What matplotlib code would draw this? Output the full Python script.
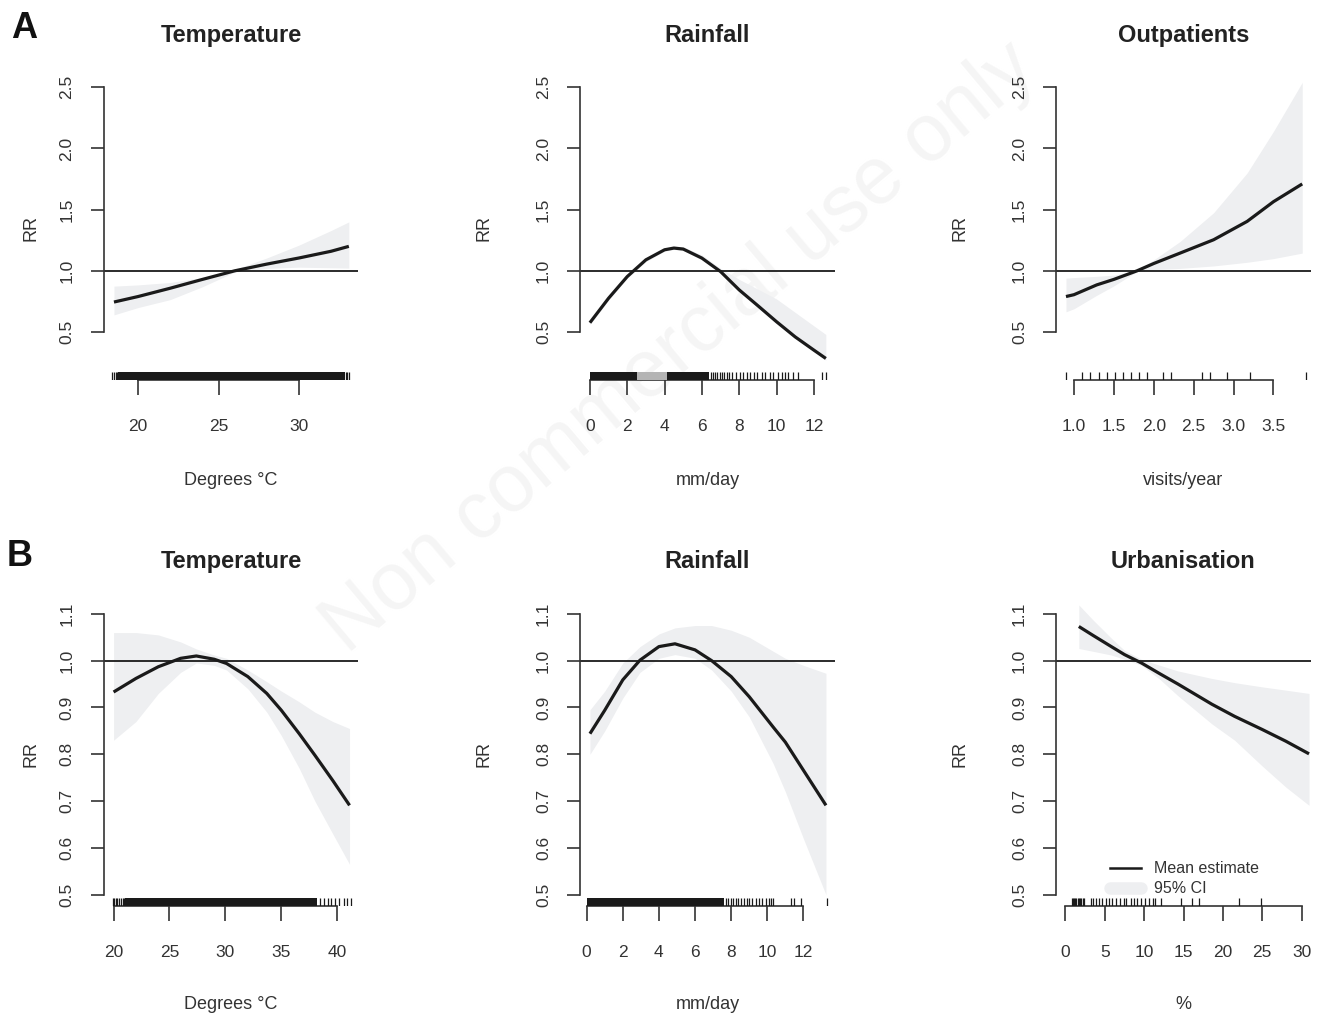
import matplotlib
matplotlib.use('Agg')
import matplotlib.pyplot as plt
from matplotlib.lines import Line2D

plt.rcParams['font.family'] = ['Liberation Sans', 'DejaVu Sans']

# ---------------- data ----------------
# Row A
temp_a_x = [18.5, 20, 22, 24, 26, 28, 30, 32, 33.1]
temp_a_rr = [0.745, 0.79, 0.858, 0.93, 1.0, 1.055, 1.105, 1.16, 1.2]
temp_a_lo = [0.64, 0.70, 0.765, 0.87, 0.99, 1.02, 1.03, 1.025, 1.022]
temp_a_hi = [0.875, 0.885, 0.905, 0.945, 1.01, 1.105, 1.21, 1.33, 1.40]
temp_a_rug = [18.4, 18.5, 18.6, 18.7, 32.9, 33.0, 33.1]
temp_a_rug_dense = [(18.75, 32.85, '#1a1a1a')]

rain_a_x = [0, 1, 2, 3, 4, 4.5, 5, 6, 7, 8, 9, 10, 11, 12, 12.64]
rain_a_rr = [0.576, 0.776, 0.953, 1.09, 1.172, 1.186, 1.178, 1.104, 0.994, 0.844, 0.715, 0.584, 0.46, 0.352, 0.284]
rain_a_lo = [0.56, 0.76, 0.94, 1.075, 1.16, 1.175, 1.165, 1.09, 0.98, 0.83, 0.70, 0.57, 0.45, 0.34, 0.27]
rain_a_hi = [0.59, 0.79, 0.965, 1.10, 1.185, 1.20, 1.195, 1.13, 1.02, 0.93, 0.85, 0.77, 0.66, 0.55, 0.48]
rain_a_rug = [6.5, 6.6, 6.7, 6.8, 6.95, 7.05, 7.2, 7.35, 7.45, 7.6, 7.8,
              8.04, 8.21, 8.39, 8.57, 8.78, 8.96, 9.2, 9.37, 9.64, 9.82, 10.1,
              10.27, 10.45, 10.62, 10.89, 11.16, 12.46, 12.64]
rain_a_rug_dense = [(0.0, 2.5, '#1a1a1a'), (2.5, 4.14, '#b4b4b4'), (4.14, 6.4, '#1a1a1a')]

outp_x = [0.9, 1.0, 1.285, 1.5, 1.79, 2.0, 2.33, 2.75, 3.17, 3.5, 3.86]
outp_rr = [0.79, 0.805, 0.885, 0.93, 1.0, 1.06, 1.145, 1.254, 1.404, 1.565, 1.71]
outp_lo = [0.665, 0.69, 0.80, 0.877, 0.995, 1.01, 1.02, 1.04, 1.07, 1.10, 1.145]
outp_hi = [0.94, 0.945, 0.955, 0.965, 1.005, 1.09, 1.24, 1.475, 1.80, 2.14, 2.54]
outp_rug = [0.9, 1.097, 1.2, 1.31, 1.41, 1.51, 1.61, 1.71, 1.81, 1.92, 2.12,
            2.21, 2.61, 2.71, 2.92, 3.21, 3.91]
outp_rug_dense = []

# Row B
temp_b_x = [20, 22, 24, 26, 27.4, 29, 30.1, 32, 33.7, 35, 36.6, 38, 39.6, 41.1]
temp_b_rr = [0.933, 0.962, 0.987, 1.005, 1.010, 1.003, 0.994, 0.966, 0.930, 0.894, 0.844, 0.798, 0.744, 0.691]
temp_b_lo = [0.83, 0.87, 0.93, 0.975, 0.995, 0.99, 0.98, 0.94, 0.89, 0.84, 0.77, 0.70, 0.63, 0.565]
temp_b_hi = [1.06, 1.06, 1.055, 1.04, 1.025, 1.012, 1.005, 0.98, 0.955, 0.935, 0.912, 0.89, 0.87, 0.855]
temp_b_rug = [19.91, 20.06, 20.21, 20.35, 20.5, 20.65, 20.8, 20.95, 38.42, 38.78,
              39.16, 39.47, 39.76, 40.15, 40.57, 40.86, 41.25]
temp_b_rug_dense = [(21.0, 38.2, '#1a1a1a')]

rain_b_x = [0.18, 1, 2, 2.95, 4, 4.89, 6, 6.92, 8, 9, 10.33, 11, 12, 13.25]
rain_b_rr = [0.844, 0.894, 0.959, 1.001, 1.030, 1.036, 1.023, 1.0, 0.966, 0.923, 0.858, 0.826, 0.766, 0.691]
rain_b_lo = [0.80, 0.85, 0.92, 0.975, 1.005, 1.013, 1.005, 0.98, 0.935, 0.88, 0.78, 0.72, 0.62, 0.50]
rain_b_hi = [0.895, 0.935, 0.995, 1.03, 1.057, 1.07, 1.075, 1.075, 1.065, 1.05, 1.02, 1.005, 0.99, 0.973]
rain_b_rug = [7.7, 7.85, 8.0, 8.1, 8.25, 8.4, 8.55, 8.7, 8.85, 8.98, 9.17, 9.35,
              9.54, 9.72, 9.91, 10.09, 10.22, 10.33, 11.3, 11.48, 11.85, 13.3]
rain_b_rug_dense = [(0.0, 7.6, '#1a1a1a')]

urb_x = [1.7, 3.5, 5.83, 7.5, 9.66, 12, 14.3, 18.6, 21.5, 25, 28, 30.95]
urb_rr = [1.073, 1.054, 1.030, 1.013, 0.995, 0.972, 0.950, 0.907, 0.881, 0.853, 0.828, 0.801]
urb_lo = [1.026, 1.02, 1.012, 1.003, 0.99, 0.96, 0.925, 0.865, 0.83, 0.775, 0.73, 0.691]
urb_hi = [1.119, 1.087, 1.048, 1.022, 1.003, 0.99, 0.978, 0.962, 0.953, 0.944, 0.937, 0.930]
urb_rug = [0.85, 0.95, 1.1, 1.25, 1.4, 1.55, 1.7, 1.85, 2.0, 2.2, 2.4, 3.27, 3.55,
           3.85, 4.25, 4.68, 5.1, 5.53, 5.96, 6.38, 6.94, 7.45, 7.74, 8.38, 8.73,
           9.15, 9.66, 10.1, 10.6, 11.07, 11.37, 12.13, 14.64, 16.13, 17.03, 22.0, 24.9]
urb_rug_dense = []

titles = ['Temperature', 'Rainfall', 'Outpatients', 'Temperature', 'Rainfall', 'Urbanisation']
xlabels = ['Degrees °C', 'mm/day', 'visits/year', 'Degrees °C', 'mm/day', '%']
xticks_list = [[20, 25, 30], [0, 2, 4, 6, 8, 10, 12], [1.0, 1.5, 2.0, 2.5, 3.0, 3.5],
               [20, 25, 30, 35, 40], [0, 2, 4, 6, 8, 10, 12], [0, 5, 10, 15, 20, 25, 30]]
xticklabels_list = [['20', '25', '30'], ['0', '2', '4', '6', '8', '10', '12'],
                    ['1.0', '1.5', '2.0', '2.5', '3.0', '3.5'],
                    ['20', '25', '30', '35', '40'], ['0', '2', '4', '6', '8', '10', '12'],
                    ['0', '5', '10', '15', '20', '25', '30']]
yticks_a = [0.5, 1.0, 1.5, 2.0, 2.5]
yticklabels_a = ['0.5', '1.0', '1.5', '2.0', '2.5']
yticks_b = [0.5, 0.6, 0.7, 0.8, 0.9, 1.0, 1.1]
yticklabels_b = ['0.5', '0.6', '0.7', '0.8', '0.9', '1.0', '1.1']
legend_labels = ['Mean estimate', '95% CI']

# ---------------- styling / layout ----------------
W, H = 1318, 1015
fig = plt.figure(figsize=(W / 100, H / 100), dpi=100)
fig.patch.set_facecolor('white')

band_col = '#eeeff1'
line_col = '#1a1a1a'
axis_col = '#333333'
text_col = '#333333'

fig.text(680 / W, 1 - 348 / H, 'Non commercial use only', rotation=40,
         fontsize=58, color='#f5f5f5', ha='center', va='center', zorder=-5)

col_left = [103.5, 580, 1056]
col_w = 255
row_top = [76, 602.6]
row_bottom = [380, 906]

xlims = [(17.85, 33.7), (-0.53, 13.13), (0.775, 3.97),
         (19.1, 41.9), (-0.37, 13.75), (-1.2, 31.2)]


def expand(a, b, f=0.04):
    d = (b - a) * f
    return (a - d, b + d)


ylims = [expand(0.2, 2.5), expand(0.5, 1.1)]
ylabel_x = [-0.285, -0.375, -0.375]
title_y = [1.132, 1.137]
xlabel_y = [-0.329, -0.326]

panels = [
    (temp_a_x, temp_a_rr, temp_a_lo, temp_a_hi, temp_a_rug, temp_a_rug_dense),
    (rain_a_x, rain_a_rr, rain_a_lo, rain_a_hi, rain_a_rug, rain_a_rug_dense),
    (outp_x, outp_rr, outp_lo, outp_hi, outp_rug, outp_rug_dense),
    (temp_b_x, temp_b_rr, temp_b_lo, temp_b_hi, temp_b_rug, temp_b_rug_dense),
    (rain_b_x, rain_b_rr, rain_b_lo, rain_b_hi, rain_b_rug, rain_b_rug_dense),
    (urb_x, urb_rr, urb_lo, urb_hi, urb_rug, urb_rug_dense),
]

for i, (x, rr, lo, hi, rug, rug_dense) in enumerate(panels):
    r, c = divmod(i, 3)
    left = col_left[c] / W
    bottom = 1 - row_bottom[r] / H
    height = (row_bottom[r] - row_top[r]) / H
    ax = fig.add_axes([left, bottom, col_w / W, height])
    ax.set_facecolor('none')

    ax.fill_between(x, lo, hi, color=band_col, lw=0, zorder=1)
    ax.axhline(1.0, color=line_col, lw=1.3, zorder=2)
    ax.plot(x, rr, color=line_col, lw=2.3, zorder=3, solid_capstyle='butt',
            solid_joinstyle='round')

    # rug
    tr = ax.get_xaxis_transform()
    rug_h = 0.025
    for a, b, colr in rug_dense:
        ax.axvspan(a, b, ymin=0, ymax=rug_h, color=colr, lw=0, zorder=4)
    ax.vlines(rug, 0, rug_h, transform=tr, color=line_col, lw=0.9, zorder=4)

    ax.set_xlim(*xlims[i])
    ax.set_ylim(*ylims[r])

    yt = yticks_a if r == 0 else yticks_b
    ytl = yticklabels_a if r == 0 else yticklabels_b
    ax.set_yticks(yt)
    ax.set_yticklabels(ytl, rotation=90, va='center')
    ax.set_xticks(xticks_list[i])
    ax.set_xticklabels(xticklabels_list[i])

    for s in ['top', 'right']:
        ax.spines[s].set_visible(False)
    ax.spines['left'].set_bounds(yt[0], yt[-1])
    ax.spines['bottom'].set_bounds(xticks_list[i][0], xticks_list[i][-1])
    for s in ['left', 'bottom']:
        ax.spines[s].set_color(axis_col)
        ax.spines[s].set_linewidth(1.2)

    ax.tick_params(axis='x', direction='out', length=10.5, width=1.2,
                   color=axis_col, labelsize=12.5, labelcolor=text_col, pad=17.5)
    ax.tick_params(axis='y', direction='out', length=9.4, width=1.2,
                   color=axis_col, labelsize=12.5, labelcolor=text_col, pad=11.5)

    ax.text(0.5, title_y[r], titles[i], transform=ax.transAxes, fontsize=17,
            fontweight='bold', color='#222222', ha='center', va='center')
    ax.set_xlabel(xlabels[i], fontsize=13, color=text_col, va='center')
    ax.xaxis.set_label_coords(0.5, xlabel_y[r])
    ax.set_ylabel('RR', fontsize=13, color=text_col, va='center')
    ax.yaxis.set_label_coords(ylabel_x[c], 0.5)

    if i == 5:
        handles = [Line2D([], [], color=line_col, lw=1.8),
                   Line2D([], [], color=band_col, lw=9, solid_capstyle='round')]
        ax.legend(handles, legend_labels, loc='upper left',
                  bbox_to_anchor=(0.21, 0.148), frameon=False, fontsize=11.5,
                  handlelength=2.0, handletextpad=0.8, labelspacing=0.32,
                  borderpad=0, borderaxespad=0, labelcolor=text_col)

fig.text(24 / W, 1 - 28 / H, 'A', fontsize=26, fontweight='bold',
         color='#111111', ha='center', va='center')
fig.text(20 / W, 1 - 557 / H, 'B', fontsize=26, fontweight='bold',
         color='#111111', ha='center', va='center')

fig.savefig('out.png', dpi=100, facecolor='white')
